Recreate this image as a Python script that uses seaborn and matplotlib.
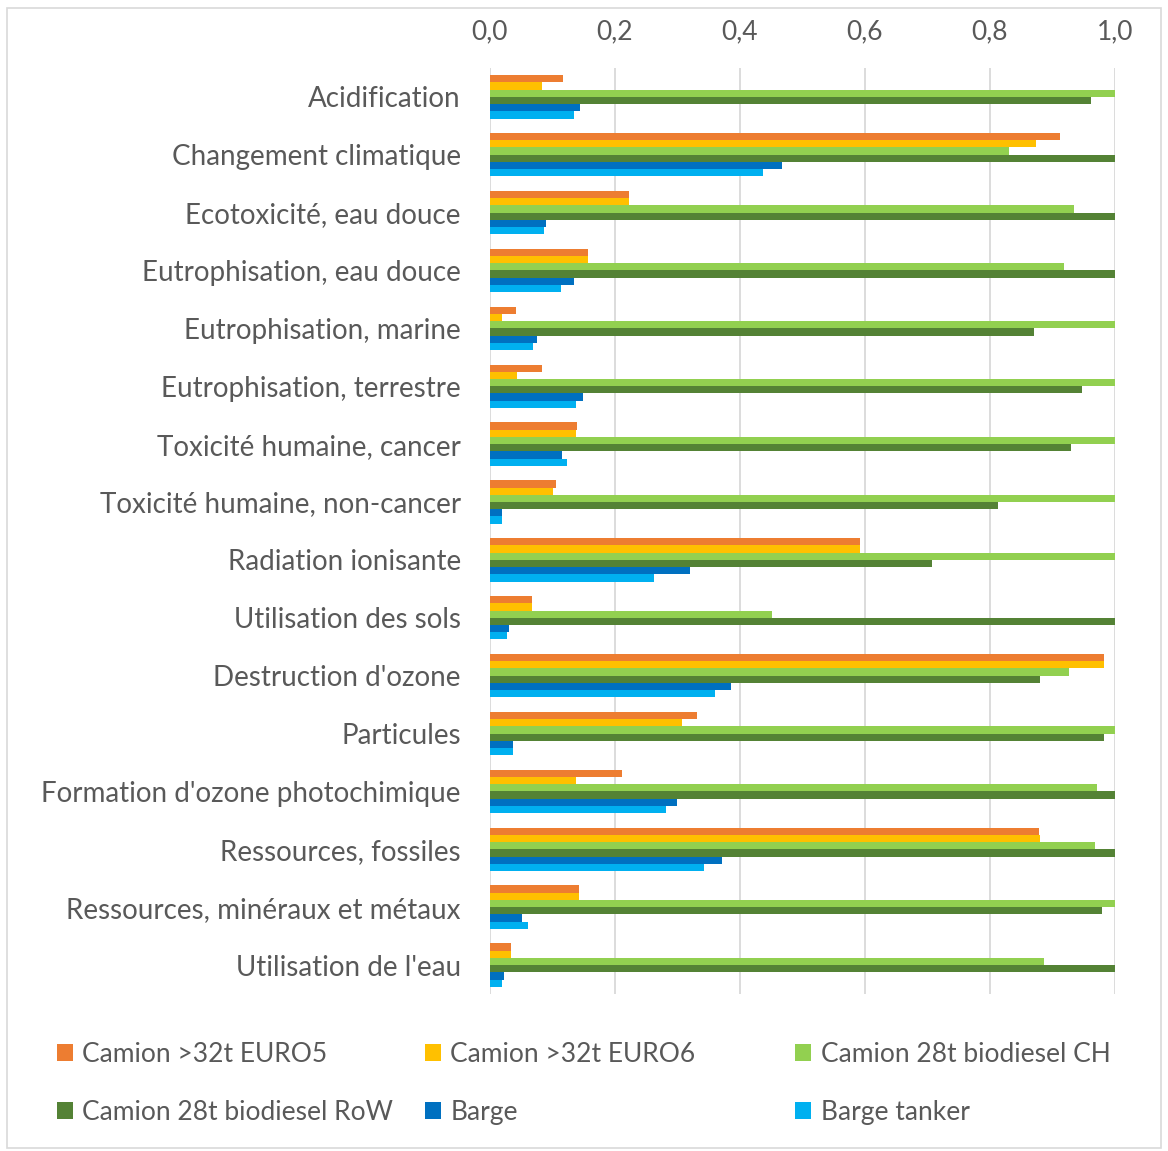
import matplotlib
matplotlib.use("Agg")
import matplotlib.pyplot as plt
from matplotlib.patches import Patch, Rectangle
from matplotlib.ticker import FuncFormatter, MultipleLocator
import numpy as np
import pandas as pd
import seaborn as sns

categories = [
    "Acidification",
    "Changement climatique",
    "Ecotoxicité, eau douce",
    "Eutrophisation, eau douce",
    "Eutrophisation, marine",
    "Eutrophisation, terrestre",
    "Toxicité humaine, cancer",
    "Toxicité humaine, non-cancer",
    "Radiation ionisante",
    "Utilisation des sols",
    "Destruction d'ozone",
    "Particules",
    "Formation d'ozone photochimique",
    "Ressources, fossiles",
    "Ressources, minéraux et métaux",
    "Utilisation de l'eau",
]

series_names = [
    "Camion >32t EURO5",
    "Camion >32t EURO6",
    "Camion 28t biodiesel CH",
    "Camion 28t biodiesel RoW",
    "Barge",
    "Barge tanker",
]

camion_euro5 = [0.117, 0.912, 0.222, 0.157, 0.042, 0.084, 0.140, 0.105,
                0.592, 0.067, 0.983, 0.331, 0.211, 0.878, 0.142, 0.034]
camion_euro6 = [0.083, 0.874, 0.222, 0.157, 0.020, 0.044, 0.138, 0.101,
                0.592, 0.067, 0.983, 0.307, 0.138, 0.880, 0.142, 0.034]
biodiesel_ch = [1.000, 0.830, 0.935, 0.918, 1.000, 1.000, 1.000, 1.000,
                1.000, 0.452, 0.927, 1.000, 0.972, 0.968, 1.000, 0.886]
biodiesel_row = [0.962, 1.000, 1.000, 1.000, 0.870, 0.948, 0.930, 0.813,
                 0.707, 1.000, 0.880, 0.983, 1.000, 1.000, 0.980, 1.000]
barge = [0.144, 0.468, 0.090, 0.134, 0.075, 0.149, 0.115, 0.019,
         0.320, 0.030, 0.385, 0.037, 0.299, 0.372, 0.052, 0.023]
barge_tanker = [0.134, 0.437, 0.087, 0.113, 0.069, 0.138, 0.124, 0.019,
                0.263, 0.027, 0.360, 0.037, 0.282, 0.343, 0.061, 0.019]

colors = ["#ED7D31", "#FFC000", "#92D050", "#548235", "#0070C0", "#00B0F0"]

all_series = [camion_euro5, camion_euro6, biodiesel_ch, biodiesel_row, barge, barge_tanker]
df = pd.DataFrame({
    "Catégorie": np.repeat([categories], len(series_names), axis=0).ravel(),
    "Série": np.repeat(series_names, len(categories)),
    "Valeur": np.concatenate(all_series),
})

sns.set_style("white")
plt.rcParams["font.family"] = ["Lato", "DejaVu Sans"]

fig = plt.figure(figsize=(11.68, 11.51), dpi=100)
ax = fig.add_axes([0.4195, 0.1364, 0.5351, 0.8046])

sns.barplot(data=df, y="Catégorie", x="Valeur", hue="Série", order=categories,
            hue_order=series_names, palette=colors, orient="h", width=0.75,
            saturation=1, errorbar=None, legend=False, ax=ax, linewidth=0)

ax.set_xlim(0, 1.0)
ax.set_ylim(len(categories) - 0.5, -0.5)
ax.xaxis.set_major_locator(MultipleLocator(0.2))
ax.xaxis.set_major_formatter(FuncFormatter(lambda v, p: f"{v:.1f}".replace(".", ",")))
ax.xaxis.tick_top()
ax.set_xlabel("")
ax.set_ylabel("")
ax.grid(axis="x", color="#D9D9D9", linewidth=1.3)
ax.set_axisbelow(True)
for s in ax.spines.values():
    s.set_visible(False)
ax.tick_params(axis="x", length=0, pad=17, labelsize=19, labelcolor="#595959")
ax.tick_params(axis="y", length=0, pad=21, labelsize=20, labelcolor="#595959")

# legend: three columns placed at fixed positions
handles = [Patch(facecolor=c, edgecolor="none") for c in colors]
col_x = [0.040, 0.355, 0.672]
for i, x in enumerate(col_x):
    idx = [i, i + 3]
    fig.legend([handles[j] for j in idx], [series_names[j] for j in idx],
               loc="upper left", bbox_to_anchor=(x, 0.104), frameon=False,
               fontsize=19, handlelength=0.6, handleheight=0.6,
               handletextpad=0.35, labelspacing=1.25, borderaxespad=0,
               labelcolor="#595959")

fig.patches.append(Rectangle((0.006, 0.003), 0.988, 0.99, transform=fig.transFigure,
                             fill=False, edgecolor="#D9D9D9", linewidth=1.2))

fig.savefig("out.png", dpi=100, facecolor="white")
